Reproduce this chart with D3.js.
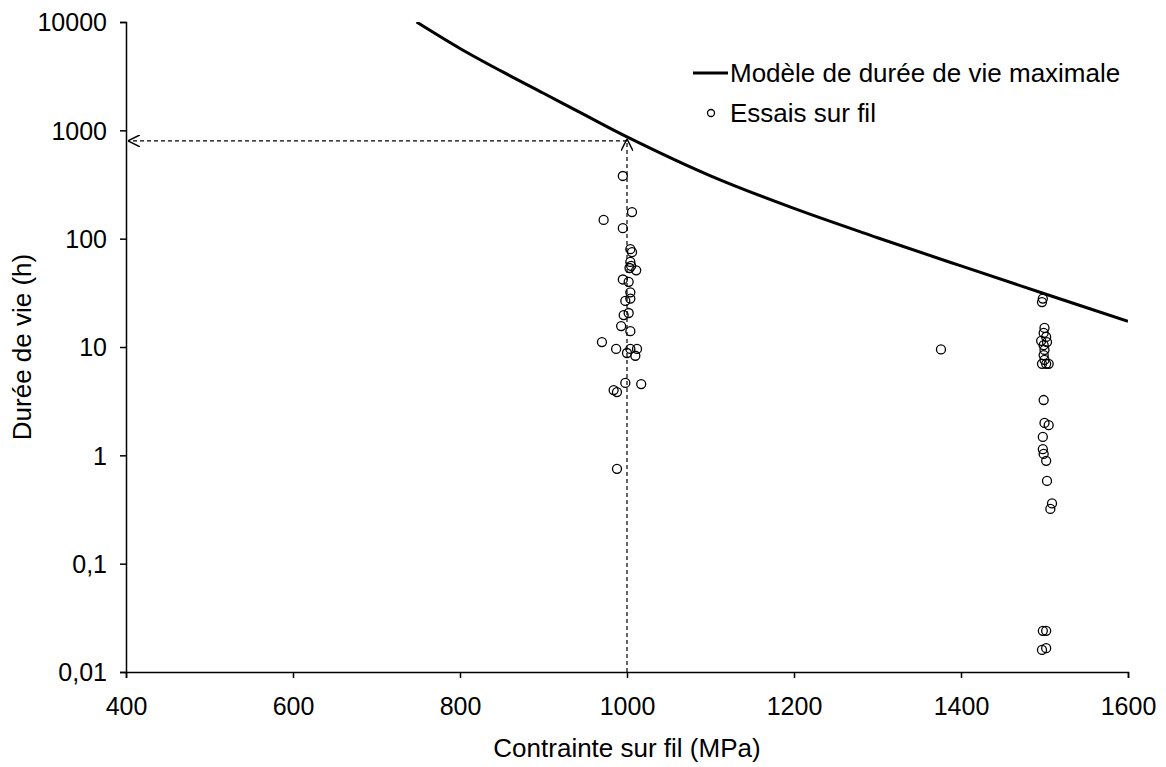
<!DOCTYPE html>
<html><head><meta charset="utf-8">
<script src="https://cdn.jsdelivr.net/npm/d3@7"></script>
<style>
body{margin:0;background:#fff;}
text{font-family:"Liberation Sans",Arial,sans-serif;fill:#000;}
</style></head>
<body><svg id="c" width="1166" height="767"></svg>
<script>
// Model curve
const modelStress = [748, 800, 850, 900, 950, 1000, 1100, 1200, 1300, 1400, 1500, 1600];
const modelLife   = [10000, 5700, 3500, 2200, 1380, 870, 380, 190, 102, 56, 31, 17.3];
// Test points
const testStress = [995, 1006, 972, 995, 1004, 1006, 1004, 1005, 1003, 1011, 995, 1002, 1004, 1004, 998, 1002, 996, 993, 1004, 970, 987, 1004, 1012, 1000, 1010, 998, 1017, 984, 988, 988,
  1376,
  1498, 1497, 1500, 1499, 1502, 1503, 1496, 1499, 1500, 1499, 1500, 1497, 1502, 1505, 1499, 1500, 1505, 1498, 1498, 1499, 1502, 1503, 1509, 1507, 1498, 1502, 1497, 1502];
const testLife   = [379, 176, 149, 125, 80, 75, 61, 56, 53.6, 51, 42, 40, 32, 28, 26.6, 20.6, 19.7, 15.6, 14, 11.1, 9.6, 9.6, 9.6, 8.8, 8.3, 4.66, 4.55, 4.0, 3.84, 0.75,
  9.5,
  28, 26, 15, 13.5, 12.4, 11.1, 11.4, 10.4, 9.4, 8.4, 7.6, 7.0, 7.0, 7.0, 3.24, 1.99, 1.9, 1.48, 1.14, 1.03, 0.89, 0.58, 0.36, 0.32, 0.024, 0.024, 0.016, 0.0166];
const xTicks = [400, 600, 800, 1000, 1200, 1400, 1600];
const yTicks = [0.01, 0.1, 1, 10, 100, 1000, 10000];
const yTickLabels = ["0,01", "0,1", "1", "10", "100", "1000", "10000"];
const refStress = 1000, refLife = 800;

const svg = d3.select("#c");
const L = 126, R = 1128, T = 22, B = 672;
const x = d3.scaleLinear().domain([400, 1600]).range([L, R]);
const y = d3.scaleLog().domain([0.01, 10000]).range([B, T]);
const fs = 25, fsL = 26;

svg.append("defs").append("clipPath").attr("id","clip")
  .append("rect").attr("x",L).attr("y",T).attr("width",R-L).attr("height",B-T);

// axes
const xAxis = svg.append("g").attr("transform",`translate(0,${B})`)
  .call(d3.axisBottom(x).tickValues(xTicks).tickSize(6).tickFormat(d3.format("d")));
const yAxis = svg.append("g").attr("transform",`translate(${L},0)`)
  .call(d3.axisLeft(y).tickValues(yTicks).tickSize(6).tickFormat((d,i)=>yTickLabels[i]));
[xAxis,yAxis].forEach(g=>{
  g.select(".domain").attr("stroke","#000").attr("stroke-width",1.5);
  g.selectAll(".tick line").attr("stroke","#000").attr("stroke-width",1.5);
  g.selectAll(".tick text").attr("font-size",fs).attr("font-family","Liberation Sans, Arial, sans-serif").attr("fill","#000");
});
xAxis.selectAll(".tick text").attr("y",43).attr("dy",0);
yAxis.selectAll(".tick text").attr("x",-19).attr("dy","0.35em");

// axis titles
svg.append("text").attr("x",(L+R)/2).attr("y",757).attr("text-anchor","middle").attr("font-size",fsL).text("Contrainte sur fil (MPa)");
svg.append("text").attr("transform",`translate(31,${(T+B)/2}) rotate(-90)`).attr("text-anchor","middle").attr("font-size",fsL).text("Durée de vie (h)");

// dashed reference lines with arrows
const defs = svg.select("defs");
defs.append("marker").attr("id","arr").attr("viewBox","0 0 10 10").attr("refX",10).attr("refY",5)
  .attr("markerWidth",12).attr("markerHeight",12).attr("markerUnits","userSpaceOnUse").attr("orient","auto")
  .append("path").attr("d","M0,0 L10,5 L0,10").attr("fill","none").attr("stroke","#000").attr("stroke-width",1.2);
svg.append("line").attr("x1",x(refStress)).attr("y1",B).attr("x2",x(refStress)).attr("y2",y(refLife)-2)
  .attr("stroke","#000").attr("stroke-width",1.2).attr("stroke-dasharray","4,3").attr("marker-end","url(#arr)");
svg.append("line").attr("x1",x(refStress)).attr("y1",y(refLife)).attr("x2",L+2).attr("y2",y(refLife))
  .attr("stroke","#000").attr("stroke-width",1.2).attr("stroke-dasharray","4,3").attr("marker-end","url(#arr)");

// model curve
const model = modelStress.map((s,i)=>[s, modelLife[i]]);
svg.append("path").datum(model).attr("clip-path","url(#clip)")
  .attr("d", d3.line().x(d=>x(d[0])).y(d=>y(d[1])).curve(d3.curveCatmullRom))
  .attr("fill","none").attr("stroke","#000").attr("stroke-width",3);

// test points
svg.append("g").selectAll("circle").data(testStress.map((s,i)=>[s,testLife[i]])).join("circle")
  .attr("cx",d=>x(d[0])).attr("cy",d=>y(d[1])).attr("r",4.5)
  .attr("fill","none").attr("stroke","#000").attr("stroke-width",1.3);

// legend
const lg = svg.append("g");
lg.append("line").attr("x1",693).attr("x2",728).attr("y1",73).attr("y2",73).attr("stroke","#000").attr("stroke-width",3);
lg.append("text").attr("x",730).attr("y",82).attr("font-size",fsL).text("Modèle de durée de vie maximale");
lg.append("circle").attr("cx",711).attr("cy",113).attr("r",3.5).attr("fill","none").attr("stroke","#000").attr("stroke-width",1.3);
lg.append("text").attr("x",730).attr("y",122).attr("font-size",fsL).text("Essais sur fil");
</script></body></html>
